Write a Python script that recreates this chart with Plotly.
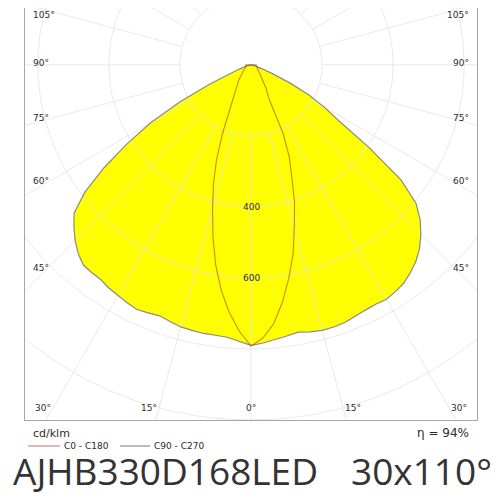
"""
配光曲线图（cd/klm）：C0-C180 与 C90-C270 两个平面，黄色填充，矩形裁切的极坐标网格。
"""
import numpy as np
import plotly.graph_objects as go

# ----- 数据-----
gamma = [0, 2.5, 5, 7.5, 10, 12.5, 15, 17.5, 20, 22.5, 25, 27.5, 30, 32.5, 35, 37.5,
         40, 42.5, 45, 47.5, 50, 52.5, 55, 57.5, 60, 62.5, 65, 67.5, 70, 75, 80, 85, 90]
# C0 在右，C180 在左（窄光束）
c0 = [792, 770, 732, 675, 611, 547, 471, 408, 336, 282, 215, 115, 91, 80, 68, 58,
      50, 44, 38, 33, 30, 27, 25, 23, 22, 20, 19, 18, 17, 16, 15, 15, 15]
c180 = [792, 751, 700, 641, 572, 495, 418, 352, 283, 210, 145, 113, 91, 80, 68, 58,
        50, 44, 38, 33, 29, 25, 22, 19, 17, 16, 15, 15, 15, 15, 15, 15, 15]
# C90 在右，C270 在左（宽光束）
c90 = [790, 784, 776, 770, 764, 770, 774, 774, 772, 767, 762, 760, 762, 757, 750, 737,
       722, 702, 676, 646, 606, 532, 405, 292, 238, 185, 122, 65, 35, 12, 5, 2, 0]
c270 = [790, 780, 770, 768, 768, 766, 764, 758, 752, 756, 760, 755, 750, 745, 738, 737,
        735, 720, 700, 676, 650, 590, 505, 414, 325, 225, 129, 65, 35, 12, 5, 2, 0]

rings = [200, 400, 600, 800, 1000]
ring_labels = [400, 600]
spokes = list(range(0, 360, 15))
side_ticks = [45, 60, 75, 90, 105]
bottom_ticks = [0, 15, 30]
unit_text = "cd/klm"
eta_text = "η = 94%"
legend_names = ["C0 - C180", "C90 - C270"]
model_text = "AJHB330D168LED"
beam_text = "30x110°"

# 颜色
yellow = '#ffff00'
narrow_col = 'rgba(170,40,30,0.55)'
wide_col = 'rgba(90,90,130,0.7)'
grid_col = 'rgba(228,228,228,0.8)'
txt_col = '#2b2b2b'

X_RANGE = [-636, 636]
Y_RANGE = [-1000, 160]

# 页面 body 默认有 8px 边距，绘图区按页面像素 25..477 x 8..420 摆放
ML, MR, MT, MB = 17, 31, 0, 88
PX0, PX1, PY0, PY1 = 25, 477, 8, 420


def px(x):
    return (x - PX0) / (PX1 - PX0)


def py(y):
    return (PY1 - y) / (PY1 - PY0)


def outline(right, left):
    # 0° 朝下；右半边从 90° 到 0°，再沿左半边回到 90°
    g = np.radians(gamma)
    r = np.asarray(right, float)
    l = np.asarray(left, float)
    x = np.concatenate([(r * np.sin(g))[::-1], -l * np.sin(g)])
    y = np.concatenate([(-r * np.cos(g))[::-1], -l * np.cos(g)])
    return np.append(x, x[0]), np.append(y, y[0])


xn, yn = outline(c0, c180)
xw, yw = outline(c90, c270)

fig = go.Figure()
# 填充
fig.add_trace(go.Scatter(x=xw, y=yw, mode='lines', fill='toself', fillcolor=yellow,
                         line=dict(width=0), showlegend=False, hoverinfo='skip'))
fig.add_trace(go.Scatter(x=xn, y=yn, mode='lines', fill='toself', fillcolor=yellow,
                         line=dict(width=0), showlegend=False, hoverinfo='skip'))

# 网格：同心圆 + 放射线（从 200 圆开始）
gx, gy = [], []
t = np.linspace(0, 2 * np.pi, 361)
for rv in rings:
    gx += list(rv * np.sin(t)) + [None]
    gy += list(-rv * np.cos(t)) + [None]
for a in spokes:
    ar = np.radians(a)
    gx += [rings[0] * np.sin(ar), 1500 * np.sin(ar), None]
    gy += [-rings[0] * np.cos(ar), -1500 * np.cos(ar), None]
fig.add_trace(go.Scatter(x=gx, y=gy, mode='lines', line=dict(color=grid_col, width=1),
                         showlegend=False, hoverinfo='skip'))

# 轮廓线
fig.add_trace(go.Scatter(x=xn, y=yn, mode='lines', name=legend_names[0],
                         line=dict(color=narrow_col, width=1.1), showlegend=False))
fig.add_trace(go.Scatter(x=xw, y=yw, mode='lines', name=legend_names[1],
                         line=dict(color=wide_col, width=1.2), showlegend=False))

lab_font = dict(family='DejaVu Sans', size=9, color=txt_col)

# 左右两侧角度标签（放在射线与边框交点附近，略高于射线）
lab_x = 597
for a in side_ticks:
    yv = -lab_x / np.tan(np.radians(a))
    if a <= 90:
        yanc, shift = 'middle', 2 + 7 / np.tan(np.radians(a))
    else:
        yanc, shift = 'top', 0
    for xv, xanc in [(-619, 'left'), (619, 'right')]:
        fig.add_annotation(x=xv, y=yv, text=f"{a}°", showarrow=False, xanchor=xanc,
                           yanchor=yanc, yshift=shift, font=lab_font)

# 底部角度标签
bot_y = -966
for a in bottom_ticks:
    xv = -bot_y * np.tan(np.radians(a))
    if a == 0:
        fig.add_annotation(x=0, y=bot_y, text=f"{a}°", showarrow=False,
                           xanchor='center', yanchor='middle', font=lab_font)
        continue
    fig.add_annotation(x=-xv, y=bot_y, text=f"{a}°", showarrow=False,
                       xanchor='right', yanchor='middle', font=lab_font)
    fig.add_annotation(x=xv, y=bot_y, text=f"{a}°", showarrow=False,
                       xanchor='left', yanchor='middle', font=lab_font)

# 光强刻度
for rv in ring_labels:
    fig.add_annotation(x=0, y=-rv, text=str(rv), showarrow=False, font=lab_font,
                       xanchor='center', yanchor='middle')

# 图外文字（paper 坐标）
fig.add_annotation(xref='paper', yref='paper', x=px(31), y=py(433), text=unit_text,
                   showarrow=False, xanchor='left', yanchor='middle',
                   font=dict(family='DejaVu Sans', size=11, color=txt_col))
fig.add_annotation(xref='paper', yref='paper', x=px(471), y=py(433), text=eta_text,
                   showarrow=False, xanchor='right', yanchor='middle',
                   font=dict(family='DejaVu Sans', size=12, color=txt_col))

# 手工图例
leg_font = dict(family='DejaVu Sans', size=9, color=txt_col)
for (x0, x1, col), name in zip([(28, 60, narrow_col), (120, 150, wide_col)], legend_names):
    fig.add_shape(type='line', xref='paper', yref='paper', x0=px(x0), x1=px(x1),
                  y0=py(446), y1=py(446), line=dict(color=col, width=1.2))
    fig.add_annotation(xref='paper', yref='paper', x=px(x1 + 2), y=py(446), text=name,
                       showarrow=False, xanchor='left', yanchor='middle', font=leg_font)

big_font = dict(family='Open Sans', size=37, color='#333333')
fig.add_annotation(xref='paper', yref='paper', x=px(11), y=py(470), text=model_text,
                   showarrow=False, xanchor='left', yanchor='middle', font=big_font)
fig.add_annotation(xref='paper', yref='paper', x=px(494), y=py(470), text=beam_text,
                   showarrow=False, xanchor='right', yanchor='middle', font=big_font)

axis_common = dict(showgrid=False, zeroline=False, showticklabels=False, ticks='',
                   showline=True, mirror=True, linecolor='#a6a6a6', linewidth=1,
                   fixedrange=True)
fig.update_layout(
    width=500, height=500,
    margin=dict(l=ML, r=MR, t=MT, b=MB),
    paper_bgcolor='white', plot_bgcolor='white',
    xaxis=dict(range=X_RANGE, **axis_common),
    yaxis=dict(range=Y_RANGE, **axis_common),
    showlegend=False,
)

fig.write_html("out.html")
